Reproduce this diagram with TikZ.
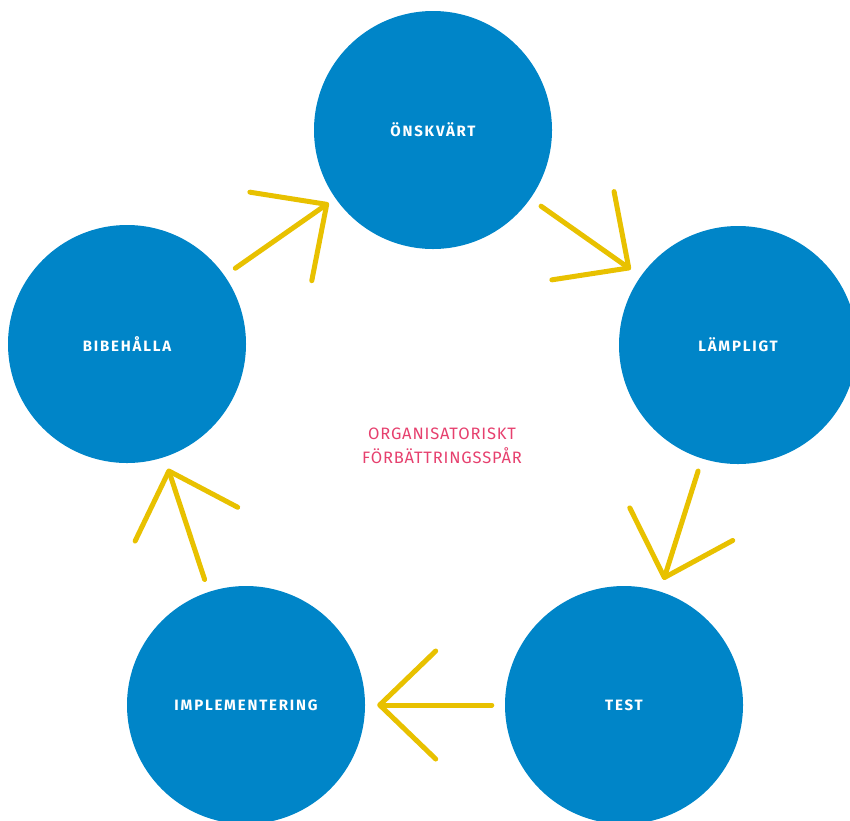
\documentclass[tikz,border=0pt]{standalone}
\usepackage{fontspec}
\setmainfont{Fira Sans}
\newfontfamily\labfont[LetterSpace=12]{Fira Sans}
\newfontfamily\midfont[LetterSpace=5]{Fira Sans}
\usetikzlibrary{arrows.meta}
\definecolor{cblue}{HTML}{0085C8}
\definecolor{cyellow}{HTML}{E8C100}
\definecolor{cpink}{HTML}{E6406E}
\begin{document}
\begin{tikzpicture}[x=1pt,y=-1pt,
  stage/.style={circle, fill=cblue, minimum size=238pt, inner sep=0pt, text=white,
    font=\labfont\bfseries\fontsize{15}{18}\selectfont},
  flow/.style={draw=cyellow, line width=5pt, line cap=round, line join=round,
    -{Straight Barb[length=56pt,width=108pt,round]}, shorten <=13pt, shorten >=12pt},
  midtext/.style={text=cpink, align=center, font=\midfont\fontsize{16.5}{24}\selectfont}]
\useasboundingbox (0,0) rectangle (850,820);
\clip (0,0) rectangle (850,820);
\node[stage] (onsk) at (433,130) {ÖNSKVÄRT};
\node[stage] (lamp) at (738,345) {LÄMPLIGT};
\node[stage] (test) at (624,705) {TEST};
\node[stage] (impl) at (246,705) {IMPLEMENTERING};
\node[stage] (bibe) at (127,344) {BIBEHÅLLA};
\node[midtext] (mid) at (442,446) {ORGANISATORISKT\\FÖRBÄTTRINGSSPÅR};
\draw[flow, shorten >=8pt] (bibe) -- (onsk);
\draw[flow] (onsk) -- (lamp);
\draw[flow] (lamp) -- (test);
\draw[flow] (test) -- (impl);
\draw[flow] (impl) -- (bibe);
\end{tikzpicture}
\end{document}
